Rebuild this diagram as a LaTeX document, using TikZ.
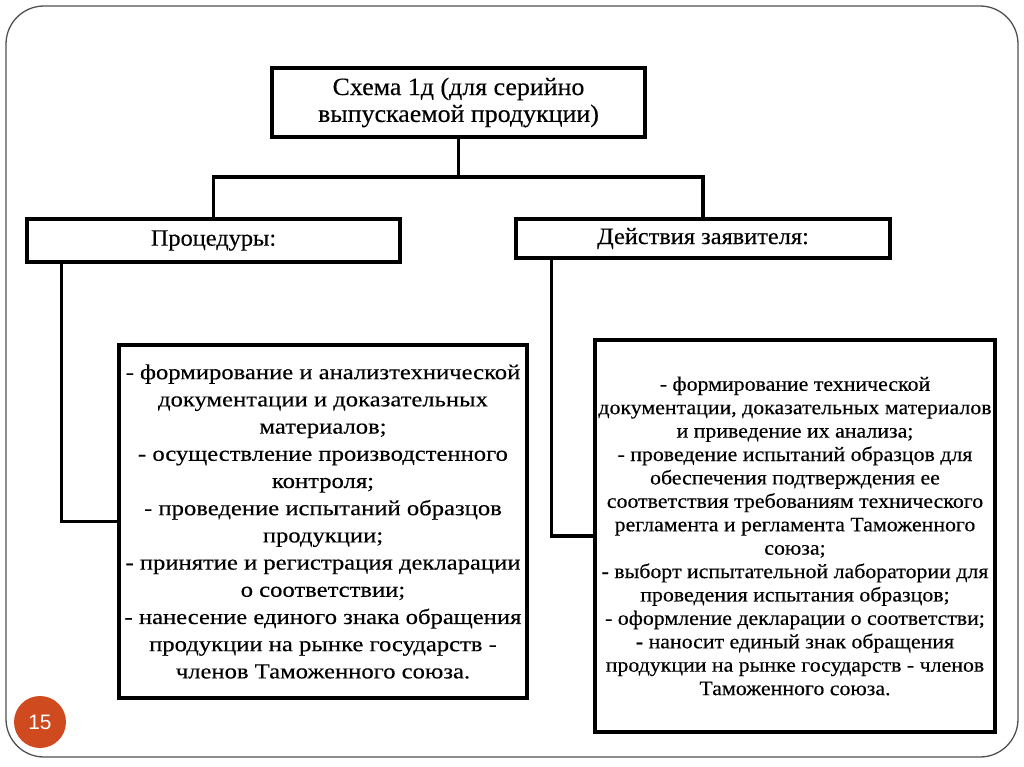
\documentclass[tikz,border=0pt]{standalone}
\usepackage{fontspec}
\setmainfont{Liberation Serif}
\newfontfamily\slidesans{Liberation Sans}
\newfontfamily\headfont[FakeStretch=1.04,FakeBold=0.3]{Liberation Serif}
\newfontfamily\procfont[FakeStretch=1.15,FakeBold=0.3]{Liberation Serif}
\newfontfamily\actsfont[FakeStretch=1.07,FakeBold=0.3]{Liberation Serif}
\usetikzlibrary{positioning}
\definecolor{slideorange}{HTML}{D04A20}
\definecolor{framegray}{HTML}{505050}

\begin{document}
\begin{tikzpicture}[x=1bp, y=-1bp,
    box/.style={draw=black, line width=3.2bp, inner sep=0pt, align=center},
    link/.style={draw=black, line width=3.2bp}]
    \useasboundingbox (0,0) rectangle (1024,767);

    % Slide frame
    \draw[framegray, line width=1.3bp, rounded corners=38bp] (6,6) rectangle (1018,757);

    % Title block
    \node[box, minimum width=373bp, minimum height=69bp,
          font=\headfont\fontsize{25}{27}\selectfont] (schema) at (458.5,102.5)
        {Схема 1д (для серийно\\выпускаемой продукции)};

    % Second level
    \node[box, minimum width=373bp, minimum height=43bp,
          font=\headfont\fontsize{23.5}{27}\selectfont] (proc) at (213.5,240.5) {Процедуры:};
    \node[box, minimum width=374bp, minimum height=39bp,
          font=\headfont\fontsize{23.5}{27}\selectfont] (acts) at (703,238.5) {Действия заявителя:};

    % Lists
    \node[box, minimum width=408bp, minimum height=353bp,
          font=\procfont\fontsize{21.5}{27.3}\selectfont] (procList) at (323,521.5)
        {- формирование и анализтехнической\\
         документации и доказательных\\
         материалов;\\
         - осуществление производстенного\\
         контроля;\\
         - проведение испытаний образцов\\
         продукции;\\
         - принятие и регистрация декларации\\
         о соответствии;\\
         - нанесение единого знака обращения\\
         продукции на рынке государств -\\
         членов Таможенного союза.};
    \node[box, minimum width=400bp, minimum height=392bp,
          font=\actsfont\fontsize{20.5}{23.5}\selectfont] (actsList) at (795,536)
        {- формирование технической\\
         документации, доказательных материалов\\
         и приведение их анализа;\\
         - проведение испытаний образцов для\\
         обеспечения подтверждения ее\\
         соответствия требованиям технического\\
         регламента и регламента Таможенного\\
         союза;\\
         - выборт испытательной лаборатории для\\
         проведения испытания образцов;\\
         - оформление декларации о соответстви;\\
         - наносит единый знак обращения\\
         продукции на рынке государств - членов\\
         Таможенного союза.};

    % Connectors
    \coordinate (split) at (458.5,177);
    \draw[link] (schema.south) -- (split);
    \draw[link] (proc.north) |- (split) -| (acts.north);
    \draw[link] ([xshift=36bp]proc.south west) |- (procList.west);
    \draw[link] ([xshift=37bp]acts.south west) |- (actsList.west);

    % Slide number
    \node[circle, fill=slideorange, minimum size=52bp, inner sep=0pt,
          text=white, font=\slidesans\fontsize{21}{24}\selectfont] (pageNo) at (40,722) {15};
\end{tikzpicture}
\end{document}
